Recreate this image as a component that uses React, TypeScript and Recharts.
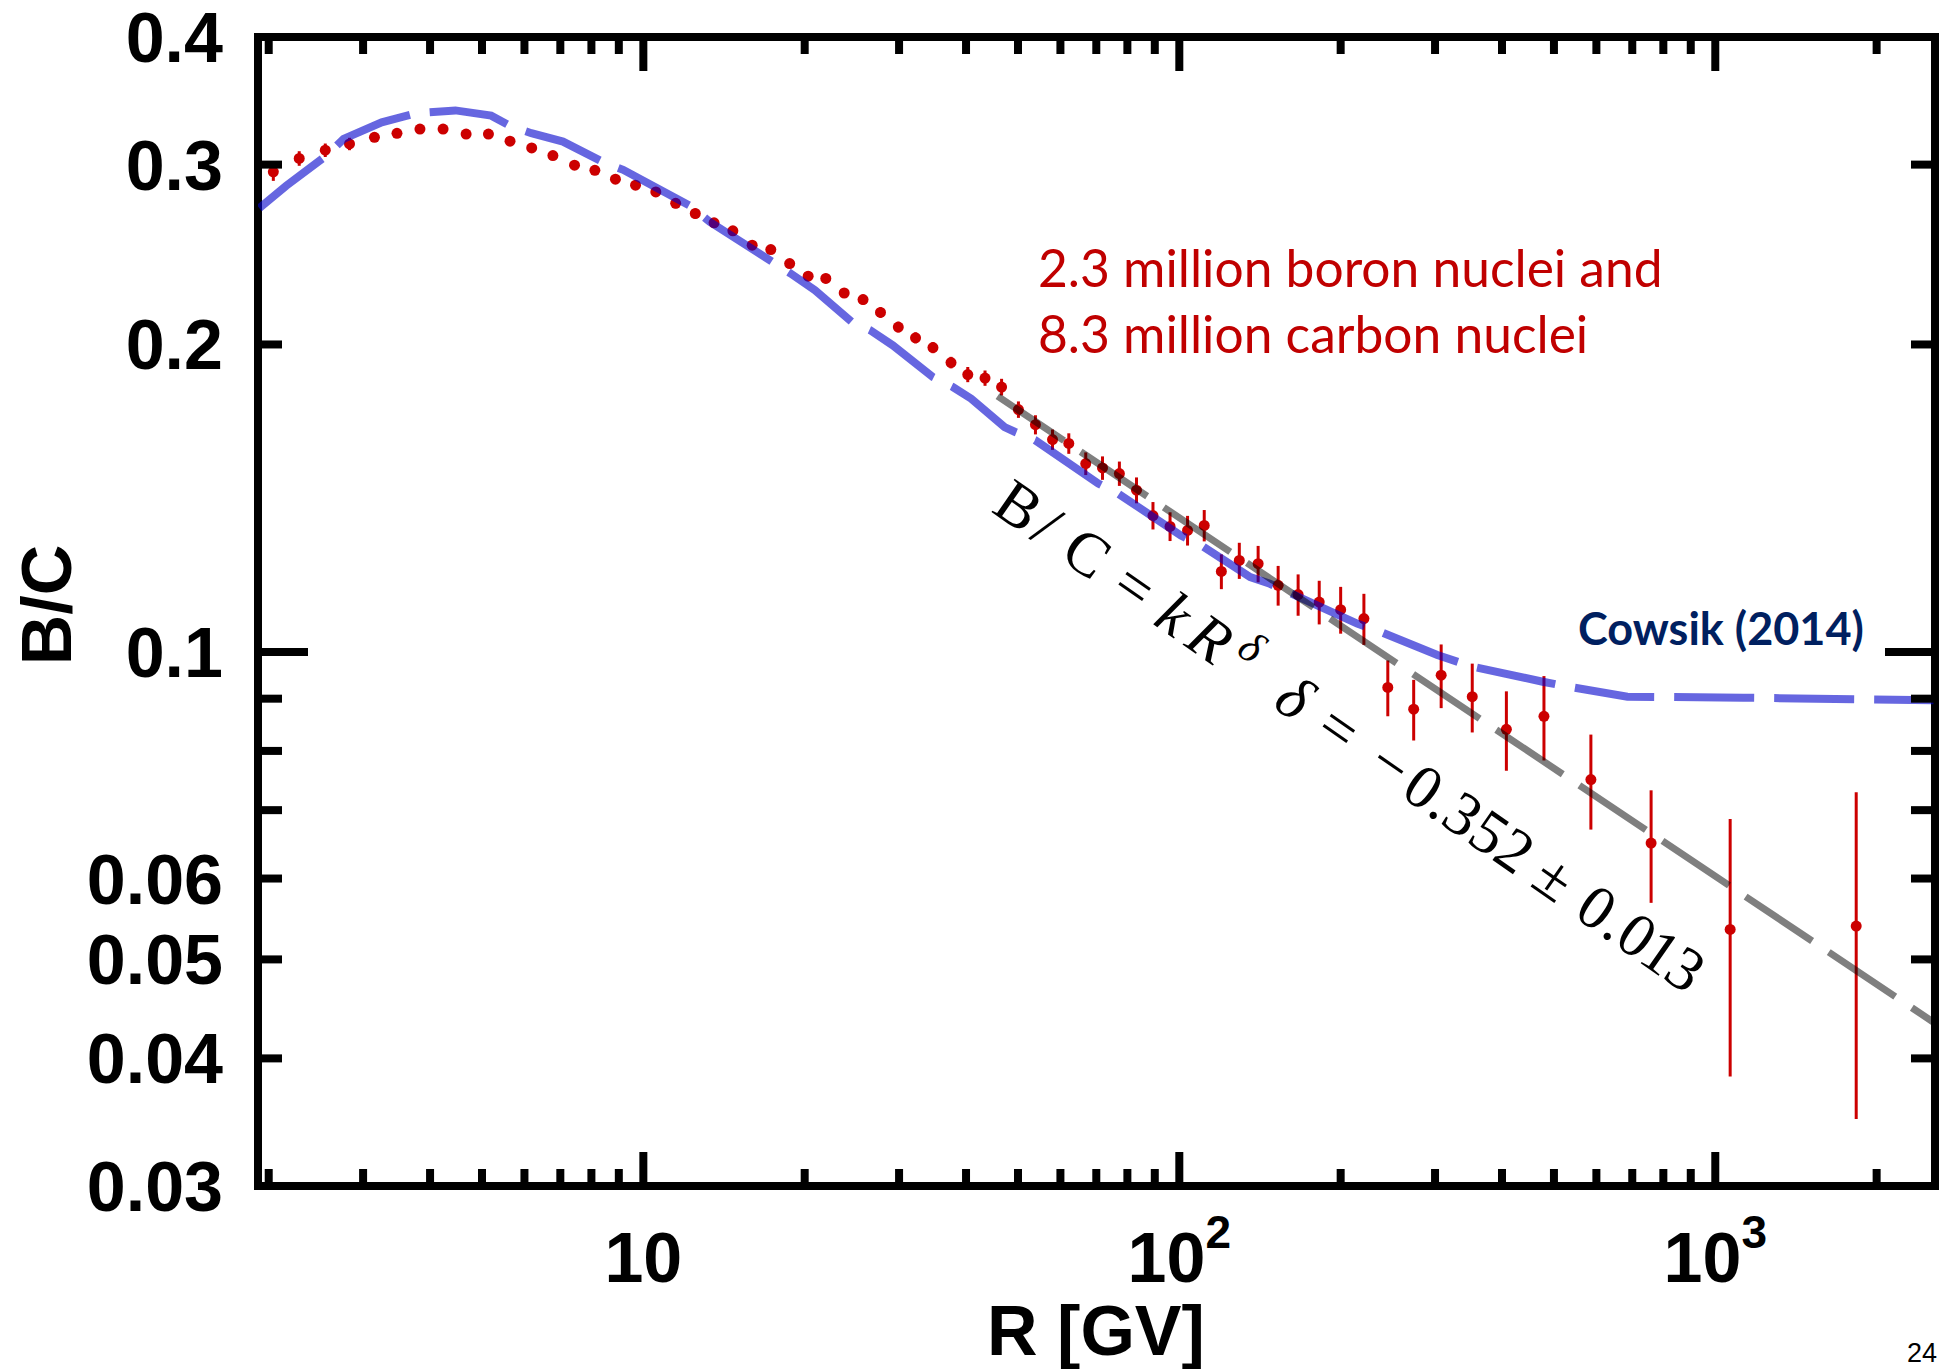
import React from "react";
import { ComposedChart, XAxis, YAxis, Line, Scatter, ErrorBar } from "recharts";

// AMS boron-to-carbon flux ratio vs rigidity
const rigidity = [
  2.04, 2.28, 2.55, 2.83, 3.15, 3.47, 3.83, 4.23, 4.67, 5.14, 5.64, 6.19, 6.78, 7.44, 8.12, 8.87, 9.67,
  10.55, 11.49, 12.5, 13.55, 14.69, 15.96, 17.29, 18.75, 20.3, 21.9, 23.7, 25.7, 27.7, 29.9, 32.2, 34.7,
  37.5, 40.3, 43.4, 46.6, 50.1, 53.9, 58.0, 62.2, 66.9, 71.9, 77.3, 83.2, 89.3, 96.1, 103.6, 111.3, 119.8,
  129.4, 140.3, 152.9, 166.6, 182.4, 200, 221, 244.9, 273.7, 308, 352, 407.6, 479, 586, 759, 1066, 1832,
];
const ratio = [
  0.2952, 0.3042, 0.3099, 0.3143, 0.319, 0.3219, 0.325, 0.325, 0.3214, 0.3214, 0.3163, 0.3115, 0.3062,
  0.2996, 0.2962, 0.2903, 0.2864, 0.2821, 0.2749, 0.2687, 0.2631, 0.2584, 0.2502, 0.2477, 0.24, 0.2333,
  0.2321, 0.2246, 0.2213, 0.215, 0.208, 0.203, 0.1986, 0.192, 0.1869, 0.1854, 0.1817, 0.1727, 0.1669,
  0.1614, 0.16, 0.1529, 0.1514, 0.1495, 0.144, 0.136, 0.1327, 0.1315, 0.133, 0.1199, 0.1229, 0.122, 0.1162,
  0.1138, 0.1119, 0.11, 0.1078, 0.0923, 0.0879, 0.0949, 0.0904, 0.084, 0.0865, 0.075, 0.065, 0.0535, 0.0539,
];
const ratioErr = [
  0.006, 0.005, 0.0047, 0.0044, 0.003, 0.003, 0.003, 0.003, 0.003, 0.003, 0.003, 0.003, 0.003, 0.003,
  0.003, 0.003, 0.003, 0.003, 0.003, 0.003, 0.0025, 0.0025, 0.0025, 0.0025, 0.0025, 0.0025, 0.0025,
  0.0025, 0.0025, 0.0025, 0.0025, 0.0025, 0.0025, 0.0025, 0.0032, 0.0032, 0.0034, 0.0032, 0.0036, 0.0037,
  0.0037, 0.0039, 0.004, 0.0041, 0.0042, 0.0042, 0.0043, 0.0044, 0.0047, 0.0047, 0.005, 0.005, 0.0052,
  0.0053, 0.0055, 0.0058, 0.0062, 0.0058, 0.006, 0.0068, 0.007, 0.0075, 0.0082, 0.008, 0.0082, 0.0151,
  0.019,
];

// Cowsik (2014) model curve
const modelRigidity = [
  1.92, 2.155, 2.56, 2.76, 3.25, 3.79, 4.46, 5.2, 5.67, 6.18, 7.08, 8.49, 9.17, 12.2, 13.3, 17.4, 18.8,
  20.9, 24.5, 26.5, 29.2, 34.7, 37.8, 40.9, 47.2, 49.4, 53.8, 70.6, 76.9, 100.7, 110.7, 135.6, 147.6,
  214.7, 236.6, 303, 350.5, 476.6, 530, 685.6, 1128, 2553,
];
const modelRatio = [
  0.272, 0.286, 0.306, 0.318, 0.33, 0.337, 0.339, 0.335, 0.327, 0.322, 0.316, 0.301, 0.2965, 0.2735,
  0.2637, 0.241, 0.2348, 0.226, 0.2104, 0.2065, 0.1996, 0.1858, 0.1817, 0.177, 0.166, 0.1642, 0.1612,
  0.1462, 0.1429, 0.13, 0.1268, 0.1184, 0.1166, 0.1066, 0.1047, 0.0993, 0.0968, 0.0935, 0.0925, 0.0904,
  0.0902, 0.0897,
];

// power-law fit B/C = k R^delta, end points
const fitRigidity = [45.8, 2570];
const fitRatio = [0.178, 0.0433];

const xTicks = [
  2, 3, 4, 5, 6, 7, 8, 9, 10, 20, 30, 40, 50, 60, 70, 80, 90, 100, 200, 300, 400, 500, 600, 700, 800, 900,
  1000, 2000,
];
const xMajor = [10, 100, 1000];
const xMajorExp = ["", "2", "3"];
const yTicks = [0.03, 0.04, 0.05, 0.06, 0.07, 0.08, 0.09, 0.1, 0.2, 0.3, 0.4];
const yLabelled = [0.03, 0.04, 0.05, 0.06, 0.1, 0.2, 0.3, 0.4];
const yMajor = [0.1];

const points = rigidity.map((R, i) => ({ R, v: ratio[i], err: ratioErr[i] }));
const model = modelRigidity.map((R, i) => ({ R, v: modelRatio[i] }));
const fit = fitRigidity.map((R, i) => ({ R, v: fitRatio[i] }));

const W = 1948;
const H = 1369;
const X_DOMAIN = [1.91, 2570];
const Y_DOMAIN = [0.03, 0.4];
const SANS = "'Liberation Sans', Arial, Helvetica, sans-serif";
const CALIBRI = "Lato, 'Open Sans', sans-serif";
const SERIF = "'Liberation Serif', 'DejaVu Serif', serif";
const RED = "#cc0000";
const TICK_W = 8;

// ticks point into the frame; labels sit outside
const BottomTick = (props: any) => {
  const { x, y, payload } = props;
  const m = xMajor.indexOf(payload.value);
  return (
    <g>
      <line x1={x} y1={y} x2={x} y2={y - (m >= 0 ? 34 : 17)} stroke="#000" strokeWidth={TICK_W} />
      {m >= 0 && (
        <text x={x} y={y + 96} textAnchor="middle" fontFamily={SANS} fontWeight="bold" fontSize={70} fill="#000">
          10
          {xMajorExp[m] && (
            <tspan dy={-34} fontSize={46}>
              {xMajorExp[m]}
            </tspan>
          )}
        </text>
      )}
    </g>
  );
};

const TopTick = (props: any) => {
  const { x, y, payload } = props;
  const major = xMajor.includes(payload.value);
  return <line x1={x} y1={y} x2={x} y2={y + (major ? 34 : 17)} stroke="#000" strokeWidth={TICK_W} />;
};

const LeftTick = (props: any) => {
  const { x, y, payload } = props;
  const v = payload.value;
  const major = yMajor.includes(v);
  return (
    <g>
      <line x1={x} y1={y} x2={x + (major ? 50 : 24)} y2={y} stroke="#000" strokeWidth={TICK_W} />
      {yLabelled.includes(v) && (
        <text x={x - 35} y={y + 25} textAnchor="end" fontFamily={SANS} fontWeight="bold" fontSize={70} fill="#000">
          {String(v)}
        </text>
      )}
    </g>
  );
};

const RightTick = (props: any) => {
  const { x, y, payload } = props;
  const major = yMajor.includes(payload.value);
  return <line x1={x} y1={y} x2={x - (major ? 50 : 24)} y2={y} stroke="#000" strokeWidth={TICK_W} />;
};

const Dot = (p: any) => <circle cx={p.cx} cy={p.cy} r={5.5} fill={RED} />;

// fit formula, typeset glyph by glyph along the fit line
const formulaGlyphs: [string, number, boolean, boolean][] = [
  ["B", 17, false, false],
  ["/", 52, false, false],
  ["C", 100, false, false],
  ["=", 158, false, false],
  ["k", 207, true, false],
  ["R", 250, true, false],
  ["δ", 289, true, true],
  ["δ", 353, true, false],
  ["=", 407, false, false],
  ["−", 470, false, false],
  ["0", 510, false, false],
  [".", 534, false, false],
  ["3", 558, false, false],
  ["5", 590, false, false],
  ["2", 621, false, false],
  ["±", 669, false, false],
  ["0", 721, false, false],
  [".", 746, false, false],
  ["0", 770, false, false],
  ["1", 799, false, false],
  ["3", 829, false, false],
];

const axisLine = { stroke: "#000", strokeWidth: 8, strokeLinecap: "square" as const };

const sharedX = {
  dataKey: "R",
  type: "number" as const,
  scale: "log" as const,
  domain: X_DOMAIN,
  allowDataOverflow: true,
  ticks: xTicks,
  interval: 0,
  tickLine: false,
  tickSize: 0,
  tickMargin: 0,
  axisLine,
};

const sharedY = {
  type: "number" as const,
  scale: "log" as const,
  domain: Y_DOMAIN,
  allowDataOverflow: true,
  ticks: yTicks,
  interval: 0,
  tickLine: false,
  tickSize: 0,
  tickMargin: 0,
  axisLine,
};

export default function App() {
  return (
    <div style={{ position: "absolute", left: 0, top: 0, width: W, height: H, background: "#fff" }}>
      <ComposedChart width={W} height={H} margin={{ top: 36, right: 12, bottom: 0, left: 0 }}>
        <XAxis xAxisId="bottom" {...sharedX} height={183} tick={BottomTick} />
        <XAxis xAxisId="top" orientation="top" {...sharedX} height={1} tick={TopTick} />
        <YAxis yAxisId="left" {...sharedY} width={258} tick={LeftTick} />
        <YAxis yAxisId="right" orientation="right" {...sharedY} width={1} tick={RightTick} />

        {/* invisible series so the mirrored top/right axes are drawn */}
        <Line
          xAxisId="top"
          yAxisId="right"
          data={fit}
          dataKey="v"
          stroke="none"
          dot={false}
          activeDot={false}
          isAnimationActive={false}
        />

        <Scatter
          xAxisId="bottom"
          yAxisId="left"
          data={points}
          dataKey="v"
          fill={RED}
          shape={Dot}
          isAnimationActive={false}
        >
          <ErrorBar dataKey="err" direction="y" width={0} stroke={RED} strokeWidth={3} />
        </Scatter>
        <Line
          xAxisId="bottom"
          yAxisId="left"
          data={model}
          dataKey="v"
          type="linear"
          stroke="#0000cc"
          strokeOpacity={0.6}
          strokeWidth={8}
          strokeDasharray="80 20"
          dot={false}
          activeDot={false}
          isAnimationActive={false}
          zIndex={700}
        />
        <Line
          xAxisId="bottom"
          yAxisId="left"
          data={fit}
          dataKey="v"
          type="linear"
          stroke="#000"
          strokeOpacity={0.5}
          strokeWidth={7}
          strokeDasharray="80 20"
          dot={false}
          activeDot={false}
          isAnimationActive={false}
          zIndex={710}
        />
      </ComposedChart>

      <svg width={W} height={H} style={{ position: "absolute", left: 0, top: 0, pointerEvents: "none" }}>
        <text
          x={71}
          y={605}
          transform="rotate(-90 71 605)"
          textAnchor="middle"
          fontFamily={SANS}
          fontWeight="bold"
          fontSize={70}
        >
          B/C
        </text>
        <text x={1096} y={1355} textAnchor="middle" fontFamily={SANS} fontWeight="bold" fontSize={70}>
          R [GV]
        </text>
        <text x={1038} y={287} fontFamily={CALIBRI} fontSize={51.5} fill="#c00000">
          2.3 million boron nuclei and
        </text>
        <text x={1038} y={353} fontFamily={CALIBRI} fontSize={51.5} fill="#c00000">
          8.3 million carbon nuclei
        </text>
        <text x={1578} y={645} fontFamily={CALIBRI} fontWeight="bold" fontSize={45} fill="#002060">
          Cowsik (2014)
        </text>
        <g transform="translate(993 513) rotate(34.8)" fontFamily={SERIF} fill="#000">
          {formulaGlyphs.map(([ch, t, italic, sup], i) => (
            <text
              key={i}
              x={t}
              y={sup ? -23 : 0}
              textAnchor="middle"
              fontSize={sup ? 44 : 62}
              fontStyle={italic ? "italic" : "normal"}
            >
              {ch}
            </text>
          ))}
        </g>
        <text x={1937} y={1362} textAnchor="end" fontFamily={SANS} fontSize={27}>
          24
        </text>
      </svg>
    </div>
  );
}
